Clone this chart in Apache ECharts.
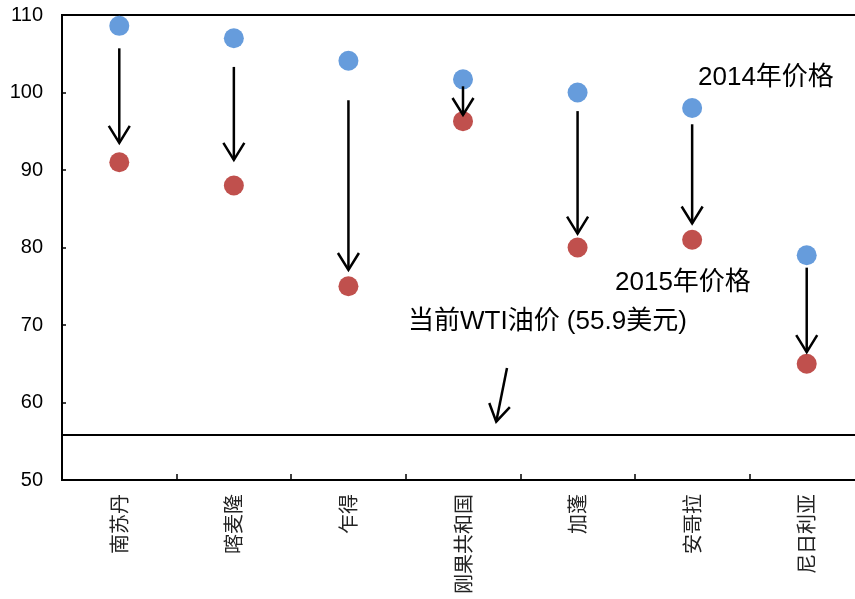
<!DOCTYPE html>
<html>
<head>
<meta charset="utf-8">
<script src="https://cdn.jsdelivr.net/npm/echarts@6/dist/echarts.min.js"></script>
<style>
html,body{margin:0;padding:0;background:#fff;}
#chart{width:855px;height:599px;}
</style>
</head>
<body>
<div id="chart"></div>
<script>
// ---- data ----
var categories = ['南苏丹', '喀麦隆', '乍得', '刚果共和国', '加蓬', '安哥拉', '尼日利亚'];
var price2014 = [108.6, 107.0, 104.1, 101.7, 100.0, 98.0, 79.0];
var price2015 = [91.0, 88.0, 75.0, 96.3, 80.0, 81.0, 65.0];
// arrow annotations: start / end value per category
var arrowStart = [105.7, 103.3, 99.0, 100.8, 97.6, 95.9, 77.4];
var arrowEnd = [93.5, 91.3, 77.1, 97.1, 81.8, 83.1, 66.5];
var wtiPrice = 55.9;
// small arrow pointing at WTI line: [x0, y0, x1, y1] in (category index, value)
var wtiArrow = [3.384, 64.45, 3.29, 57.52];
var yTicks = { min: 50, max: 110, interval: 10 };
var labels = { p2014: '2014年价格', p2015: '2015年价格', wti: '当前WTI油价 (55.9美元)' };

var arrowData = categories.map(function (c, i) {
  return [i, arrowStart[i], i, arrowEnd[i]];
});
arrowData.push(wtiArrow);

var chart = echarts.init(document.getElementById('chart'), null, { renderer: 'canvas' });
var latin = 'Liberation Sans, Arial, sans-serif';
var mixed = '"Liberation Sans", "Noto Sans CJK SC", sans-serif';

var option = {
  animation: false,
  backgroundColor: '#fff',
  grid: {
    left: 62, top: 15, width: 802, bottom: 119,
    containLabel: false, outerBoundsMode: 'none',
    show: true, borderColor: '#000', borderWidth: 2, backgroundColor: 'transparent'
  },
  xAxis: [
    {
      type: 'category',
      data: categories,
      boundaryGap: true,
      axisLine: { show: true, onZero: false, lineStyle: { color: '#000', width: 2 } },
      axisTick: { show: true, inside: true, length: 6, lineStyle: { color: '#000', width: 1.5 } },
      axisLabel: {
        rotate: 90, margin: 14, fontSize: 20, color: '#222',
        fontFamily: '"Noto Sans CJK SC", sans-serif', interval: 0
      },
      splitLine: { show: false }
    },
    {
      type: 'value', min: -0.5, max: 6.5, show: false
    }
  ],
  yAxis: {
    type: 'value',
    min: yTicks.min, max: yTicks.max, interval: yTicks.interval,
    axisLine: { show: true, onZero: false, lineStyle: { color: '#000', width: 2 } },
    axisTick: { show: true, inside: true, length: 4, lineStyle: { color: '#000', width: 1.5 } },
    axisLabel: { fontSize: 20, color: '#000', fontFamily: latin, margin: 19 },
    splitLine: { show: false }
  },
  series: [
    {
      name: '2014', type: 'scatter', xAxisIndex: 0, data: price2014,
      symbol: 'circle', symbolSize: 20,
      itemStyle: { color: '#669CDC', opacity: 1 },
      z: 2,
      markLine: {
        silent: true, symbol: 'none', label: { show: false },
        lineStyle: { color: '#000', width: 2, type: 'solid' },
        data: [{ yAxis: wtiPrice }]
      }
    },
    {
      name: '2015', type: 'scatter', xAxisIndex: 0, data: price2015,
      symbol: 'circle', symbolSize: 20,
      itemStyle: { color: '#C0504D', opacity: 1 },
      z: 2
    },
    {
      type: 'custom', xAxisIndex: 1, yAxisIndex: 0, data: arrowData, z: 5, clip: false,
      encode: { x: [0, 2], y: [1, 3] },
      renderItem: function (params, api) {
        var p0 = api.coord([api.value(0), api.value(1)]);
        var p1 = api.coord([api.value(2), api.value(3)]);
        var dx = p1[0] - p0[0], dy = p1[1] - p0[1];
        var len = Math.sqrt(dx * dx + dy * dy) || 1;
        var ux = dx / len, uy = dy / len;
        var hl = 17, hw = 10.5;
        var a = [p1[0] - ux * hl - uy * hw, p1[1] - uy * hl + ux * hw];
        var b = [p1[0] - ux * hl + uy * hw, p1[1] - uy * hl - ux * hw];
        return {
          type: 'group',
          children: [
            { type: 'line', shape: { x1: p0[0], y1: p0[1], x2: p1[0], y2: p1[1] },
              style: { stroke: '#000', lineWidth: 2.5 } },
            { type: 'polyline', shape: { points: [a, p1, b] },
              style: { stroke: '#000', lineWidth: 2.5, fill: null } }
          ]
        };
      }
    }
  ],
  graphic: [
    { type: 'text', x: 698, y: 78, style: { text: labels.p2014, fontSize: 26, fontFamily: mixed, fill: '#000', align: 'left', verticalAlign: 'middle' } },
    { type: 'text', x: 615, y: 283, style: { text: labels.p2015, fontSize: 26, fontFamily: mixed, fill: '#000', align: 'left', verticalAlign: 'middle' } },
    { type: 'text', x: 408, y: 322, style: { text: labels.wti, fontSize: 26, fontFamily: mixed, fill: '#000', align: 'left', verticalAlign: 'middle' } }
  ]
};
chart.setOption(option);
</script>
</body>
</html>
